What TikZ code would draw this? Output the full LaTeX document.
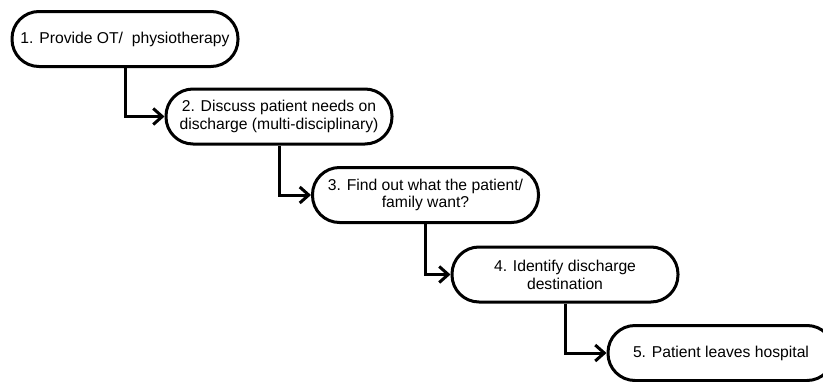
\documentclass[tikz,border=0pt]{standalone}
\usepackage{fontspec}
\setmainfont{Liberation Sans}
\usetikzlibrary{arrows.meta}
\tikzset{
  stepbox/.style={draw=black, line width=3pt, rectangle, rounded corners=27pt,
    minimum width=226pt, minimum height=55pt, align=center, inner sep=2pt,
    font=\fontsize{15.7}{17.8}\selectfont},
  flow/.style={line width=3pt, -{Straight Barb[length=9pt,width=16pt]}}
}
\begin{document}
\begin{tikzpicture}[x=1pt,y=-1pt]
\useasboundingbox (0,0) rectangle (823,381);
\node[stepbox] (b1) at (125,39) {1. Provide OT/ \ physiotherapy};
\node[stepbox] (b2) at (279,116.5) {2. Discuss patient needs on\\discharge (multi-disciplinary)};
\node[stepbox] (b3) at (425.5,195) {3. Find out what the patient/\\family want?};
\node[stepbox] (b4) at (565,274.5) {4. Identify discharge\\destination};
\node[stepbox] (b5) at (721,353) {5. Patient leaves hospital};
\draw[flow] (b1.south) |- (b2.west);
\draw[flow] (b2.south) |- (b3.west);
\draw[flow] (b3.south) |- (b4.west);
\draw[flow] (b4.south) |- (b5.west);
\end{tikzpicture}
\end{document}
